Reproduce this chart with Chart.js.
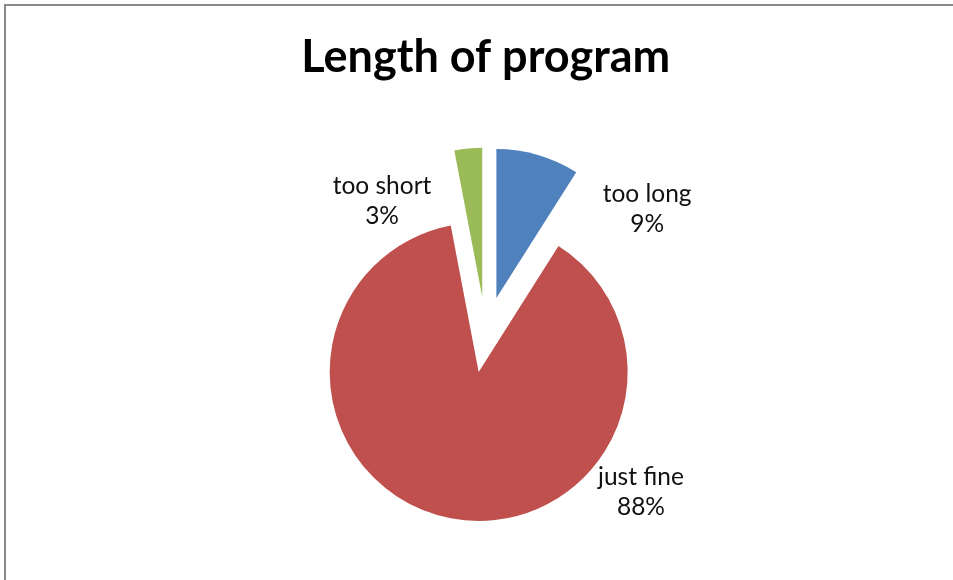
<!DOCTYPE html>
<html><head><meta charset="utf-8">
<script src="https://cdn.jsdelivr.net/npm/chart.js@4"></script>
<style>
html,body{margin:0;padding:0;background:#fff;overflow:hidden}
#wrap{position:relative;width:953px;height:580px;overflow:hidden;background:#fff}
#frame{position:absolute;left:4px;top:4px;width:1200px;height:1200px;border:2px solid #888;box-sizing:border-box}
canvas{position:absolute;left:0;top:0}
</style></head><body>
<div id="wrap"><div id="frame"></div></div>
<script>
// ---- data ----
const categories = ['too long', 'just fine', 'too short'];
const values = [9, 88, 3];
const percentLabels = ['9%', '88%', '3%'];
const chartTitle = 'Length of program';

// ---- style ----
const colors = ['#4F81BD', '#C0504D', '#9BBB59'];
const labelAngles = [52.1, 135.4, 322.2];      // degrees clockwise from 12 o'clock, from pie center
const labelDistances = [1.372, 1.483, 1.136];  // as fraction of radius
const centerX = 485.8, centerY = 334.6, radius = 149, explode = 38;
const W = 953, H = 580;
const titleFont = 'bold 45px Lato', titleY = 57;

// mid-angle of each slice (degrees clockwise from 12 o'clock), from the data
const total = values.reduce((a, b) => a + b, 0);
let cum = 0;
const midAngles = values.map(v => { const m = (cum + v / 2) / total * 360; cum += v; return m; });

// Each exploded slice is drawn by its own pie (same data), whose centre is pushed out along the slice's mid-angle.
const wrap = document.getElementById('wrap');
categories.forEach((cat, i) => {
  const canvas = document.createElement('canvas');
  canvas.width = W; canvas.height = H;
  wrap.appendChild(canvas);
  const a = midAngles[i] * Math.PI / 180;
  const sx = Math.sin(a) * explode, sy = -Math.cos(a) * explode;
  const cx = centerX + sx, cy = centerY + sy;

  const textPlugin = {
    id: 'sliceText' + i,
    afterDatasetsDraw(chart) {
      const ctx = chart.ctx;
      const arc = chart.getDatasetMeta(0).data[i];
      const bx = arc.x - sx, by = arc.y - sy;           // un-exploded pie centre
      ctx.save();
      ctx.fillStyle = '#000';
      ctx.textAlign = 'center';
      ctx.textBaseline = 'middle';
      if (i === 0) {
        ctx.font = titleFont;
        ctx.fillText(chartTitle, bx, titleY);
      }
      const la = labelAngles[i] * Math.PI / 180;
      const r = arc.outerRadius * labelDistances[i];
      const x = bx + Math.sin(la) * r;
      const y = by - Math.cos(la) * r;
      ctx.font = '24.5px Lato';
      ctx.fillStyle = '#111';
      ctx.fillText(categories[i], x, y - 15);
      ctx.fillText(percentLabels[i], x, y + 15);
      ctx.restore();
    }
  };

  new Chart(canvas, {
    type: 'pie',
    data: {
      labels: categories,
      datasets: [{
        data: values,
        backgroundColor: colors.map((c, j) => j === i ? c : 'rgba(0,0,0,0)'),
        borderWidth: 0,
        offset: 0,
        hoverOffset: 0
      }]
    },
    options: {
      responsive: false,
      devicePixelRatio: 1,
      animation: false,
      events: [],
      layout: {
        padding: { top: cy - radius, left: cx - radius, right: W - (cx + radius), bottom: H - (cy + radius) }
      },
      plugins: {
        legend: { display: false },
        tooltip: { enabled: false },
        title: { display: false }
      }
    },
    plugins: [textPlugin]
  });
});
</script>
</body></html>
